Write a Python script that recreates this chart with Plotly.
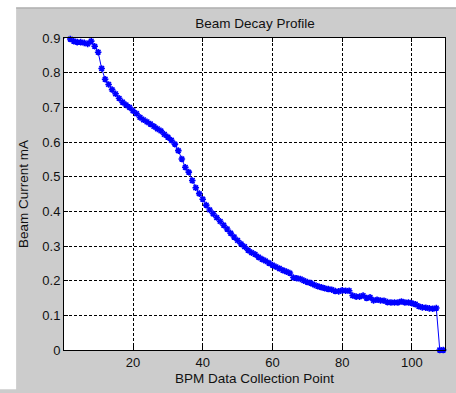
import plotly.graph_objects as go

# BPM data collection points and measured beam current (mA)
bpm_points = list(range(0, 110))
beam_current = [
    0.899, 0.903, 0.897, 0.891, 0.888, 0.888, 0.886, 0.883, 0.891, 0.876,
    0.859, 0.812, 0.781, 0.766, 0.751, 0.739, 0.726, 0.715, 0.707, 0.700,
    0.690, 0.682, 0.671, 0.664, 0.658, 0.652, 0.645, 0.638, 0.632, 0.622,
    0.614, 0.605, 0.594, 0.575, 0.551, 0.527, 0.513, 0.489, 0.468, 0.451,
    0.435, 0.418, 0.404, 0.393, 0.382, 0.371, 0.360, 0.349, 0.337, 0.326,
    0.316, 0.306, 0.298, 0.288, 0.281, 0.276, 0.268, 0.262, 0.257, 0.251,
    0.245, 0.240, 0.235, 0.230, 0.226, 0.222, 0.209, 0.207, 0.205, 0.200,
    0.196, 0.193, 0.188, 0.184, 0.181, 0.178, 0.176, 0.174, 0.170, 0.169,
    0.172, 0.171, 0.171, 0.157, 0.154, 0.154, 0.157, 0.150, 0.152, 0.143,
    0.145, 0.143, 0.142, 0.138, 0.137, 0.137, 0.137, 0.140, 0.137, 0.137,
    0.135, 0.132, 0.126, 0.123, 0.122, 0.120, 0.119, 0.121, 0.0, 0.0,
]

x_ticks = [20, 40, 60, 80, 100]
x_tick_labels = ["20", "40", "60", "80", "100"]
y_ticks = [0, 0.1, 0.2, 0.3, 0.4, 0.5, 0.6, 0.7, 0.8, 0.9]
y_tick_labels = ["0", "0.1", "0.2", "0.3", "0.4", "0.5", "0.6", "0.7", "0.8", "0.9"]

W, H = 456, 393
L, R, T, B = 64, 10, 38, 38
PW, PH = W - L - R, H - T - B


def px_x(px):
    return (px - L) / PW


def px_y(py):
    return (H - B - py) / PH


FONT = "Liberation Sans, Arial, sans-serif"
GRAY = "#cccccc"

fig = go.Figure()
fig.add_trace(go.Scatter(
    x=bpm_points, y=beam_current, mode="lines+markers",
    line=dict(color="#0000ff", width=1),
    marker=dict(symbol="asterisk-open", size=5.5, color="#0000ff",
                line=dict(color="#0000ff", width=1.6)),
    cliponaxis=False, showlegend=False,
))

axis_common = dict(
    showline=True, linecolor="black", linewidth=1, mirror="ticks",
    ticks="inside", ticklen=4, tickcolor="black", tickwidth=1,
    showgrid=True, gridcolor="black", gridwidth=1, griddash="3px,2px",
    zeroline=False, tickfont=dict(family=FONT, size=13, color="#111111"),
)

fig.update_xaxes(range=[0.2, 109.5], tickvals=x_ticks, ticktext=x_tick_labels,
                 title=dict(text="BPM Data Collection Point", standoff=4,
                            font=dict(family=FONT, size=13.5, color="#111111")),
                 **axis_common)
fig.update_yaxes(range=[0, 0.9], tickvals=y_ticks, ticktext=y_tick_labels,
                 title=dict(text="Beam Current mA", standoff=10,
                            font=dict(family=FONT, size=13.5, color="#111111")),
                 **axis_common)

shapes = [
    dict(type="rect", xref="paper", yref="paper", x0=px_x(-2), x1=px_x(16),
         y0=px_y(H + 2), y1=px_y(-2), fillcolor="white", line=dict(width=0), layer="above"),
    dict(type="rect", xref="paper", yref="paper", x0=px_x(-2), x1=px_x(W + 2),
         y0=px_y(7), y1=px_y(-2), fillcolor="white", line=dict(width=0), layer="above"),
    dict(type="line", xref="paper", yref="paper", x0=px_x(16), x1=px_x(W + 2),
         y0=px_y(7.5), y1=px_y(7.5), line=dict(color="#a0a0a0", width=1), layer="above"),
    # gray fill for the lower and right margin edges
    dict(type="rect", xref="paper", yref="paper", x0=px_x(16), x1=px_x(W + 4),
         y0=px_y(H + 4), y1=px_y(372), fillcolor=GRAY, line=dict(width=0), layer="below"),
]

fig.update_layout(
    width=W, height=H, margin=dict(l=L, r=R, t=T, b=B, pad=0),
    paper_bgcolor=GRAY, plot_bgcolor="white",
    title=dict(text="Beam Decay Profile", x=(L + PW / 2) / W, xanchor="center",
               y=1 - 23 / H, yanchor="middle", yref="container",
               font=dict(family=FONT, size=13.5, color="#111111")),
    shapes=shapes,
)

fig.write_html(
    "out.html",
    config={"displayModeBar": False},
    post_script="document.documentElement.style.background='#cccccc';document.body.style.margin='0';document.body.style.background='#cccccc';",
)
